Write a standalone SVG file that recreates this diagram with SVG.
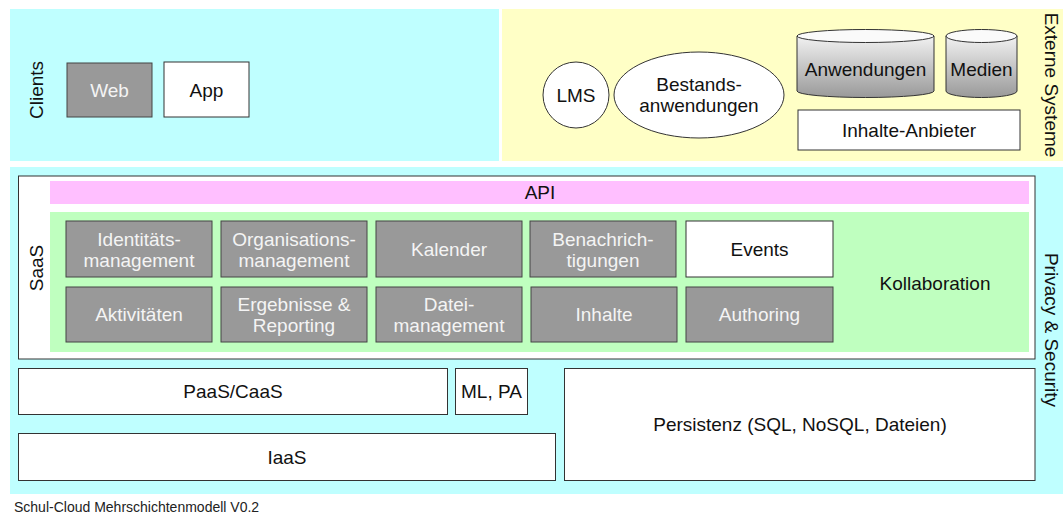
<svg xmlns="http://www.w3.org/2000/svg" width="1063" height="515" viewBox="0 0 1063 515">
<style>
text{font-family:"Liberation Sans",Arial,sans-serif;font-size:19px;fill:#111;text-anchor:middle;dominant-baseline:central}
.g rect{fill:#999;stroke:#444;stroke-width:1}
.g text{fill:#f4f4f4}
.w{fill:#fff;stroke:#333;stroke-width:1}
.cyl{fill:url(#cg);stroke:#333;stroke-width:1}
.cyltop{fill:#fafafa;stroke:#333;stroke-width:1}
</style>
<defs>
<linearGradient id="cg" x1="0" y1="0" x2="0" y2="1">
<stop offset="0" stop-color="#f2f2f2"/>
<stop offset="1" stop-color="#999"/>
</linearGradient>
</defs>
<rect width="1063" height="515" fill="#fff"/>
<g id="clients-panel">
<rect x="10" y="9" width="489" height="152" fill="#bfffff"/>
<text transform="translate(36 90) rotate(-90)">Clients</text>
</g>
<g id="externe-panel">
<rect x="502" y="9" width="561" height="152" fill="#ffffc6"/>
<text transform="translate(1051 85) rotate(90)">Externe Systeme</text>
</g>
<g id="platform-panel">
<rect x="10" y="167" width="1053" height="327" fill="#bfffff"/>
<text transform="translate(1051 330) rotate(90)">Privacy &amp; Security</text>
</g>
<g id="web" class="g"><rect x="67" y="63" width="85" height="54"/><text x="109.5" y="90">Web</text></g>
<g id="app"><rect class="w" x="164" y="62" width="85" height="55"/><text x="206.5" y="90">App</text></g>
<g id="lms"><circle class="w" cx="576" cy="95" r="33"/><text x="576" y="95">LMS</text></g>
<g id="bestand"><ellipse class="w" cx="699" cy="95" rx="85" ry="43"/><text x="699" y="84">Bestands-</text><text x="699" y="105">anwendungen</text></g>
<g id="anwendungen">
<path class="cyl" d="M797 36 V91 A68.5 6.5 0 0 0 934 91 V36 Z"/>
<ellipse class="cyltop" cx="865.5" cy="36" rx="68.5" ry="6.5"/>
<text x="865.5" y="69">Anwendungen</text>
</g>
<g id="medien">
<path class="cyl" d="M946 36 V91 A35.5 6.5 0 0 0 1017 91 V36 Z"/>
<ellipse class="cyltop" cx="981.5" cy="36" rx="35.5" ry="6.5"/>
<text x="981.5" y="69">Medien</text>
</g>
<g id="inhalte-anbieter"><rect class="w" x="798" y="110" width="222" height="40"/><text x="909" y="130">Inhalte-Anbieter</text></g>
<g id="saas">
<rect class="w" x="18.5" y="176" width="1016.5" height="183"/>
<text transform="translate(36 268) rotate(-90)">SaaS</text>
</g>
<g id="api"><rect x="50" y="181" width="979" height="23" fill="#ffbfff"/><text x="540" y="192.5">API</text></g>
<g id="kollaboration"><rect x="50" y="212" width="979" height="140" fill="#bfffbf"/><text x="935" y="283">Kollaboration</text></g>
<g id="identitaet" class="g"><rect x="66" y="221" width="146" height="56"/><text x="139" y="239">Identitäts-</text><text x="139" y="260">management</text></g>
<g id="organisation" class="g"><rect x="221" y="221" width="146" height="56"/><text x="294" y="239">Organisations-</text><text x="294" y="260">management</text></g>
<g id="kalender" class="g"><rect x="376" y="221" width="146" height="56"/><text x="449" y="249">Kalender</text></g>
<g id="benachrichtigungen" class="g"><rect x="530" y="221" width="146" height="56"/><text x="603" y="239">Benachrich-</text><text x="603" y="260">tigungen</text></g>
<g id="events"><rect class="w" x="686" y="221" width="147" height="56"/><text x="759.5" y="249">Events</text></g>
<g id="aktivitaeten" class="g"><rect x="66" y="287" width="146" height="55"/><text x="139" y="314.5">Aktivitäten</text></g>
<g id="ergebnisse" class="g"><rect x="221" y="287" width="146" height="55"/><text x="294" y="304">Ergebnisse &amp;</text><text x="294" y="325">Reporting</text></g>
<g id="dateimanagement" class="g"><rect x="376" y="287" width="146" height="55"/><text x="449" y="304">Datei-</text><text x="449" y="325">management</text></g>
<g id="inhalte" class="g"><rect x="531" y="287" width="146" height="55"/><text x="604" y="314.5">Inhalte</text></g>
<g id="authoring" class="g"><rect x="686" y="287" width="147" height="55"/><text x="759.5" y="314.5">Authoring</text></g>
<g id="paas"><rect class="w" x="18.5" y="368.5" width="429" height="46"/><text x="233" y="391.5">PaaS/CaaS</text></g>
<g id="ml"><rect class="w" x="455.5" y="368.5" width="72" height="46"/><text x="491.5" y="391.5">ML, PA</text></g>
<g id="iaas"><rect class="w" x="18.5" y="433.5" width="537" height="47"/><text x="287" y="457">IaaS</text></g>
<g id="persistenz"><rect class="w" x="564.5" y="368.5" width="470.5" height="112"/><text x="800" y="424.5">Persistenz (SQL, NoSQL, Dateien)</text></g>
<g id="connectors"></g>
<text x="14" y="507" style="font-size:14px;text-anchor:start;fill:#222">Schul-Cloud Mehrschichtenmodell V0.2</text>
</svg>
